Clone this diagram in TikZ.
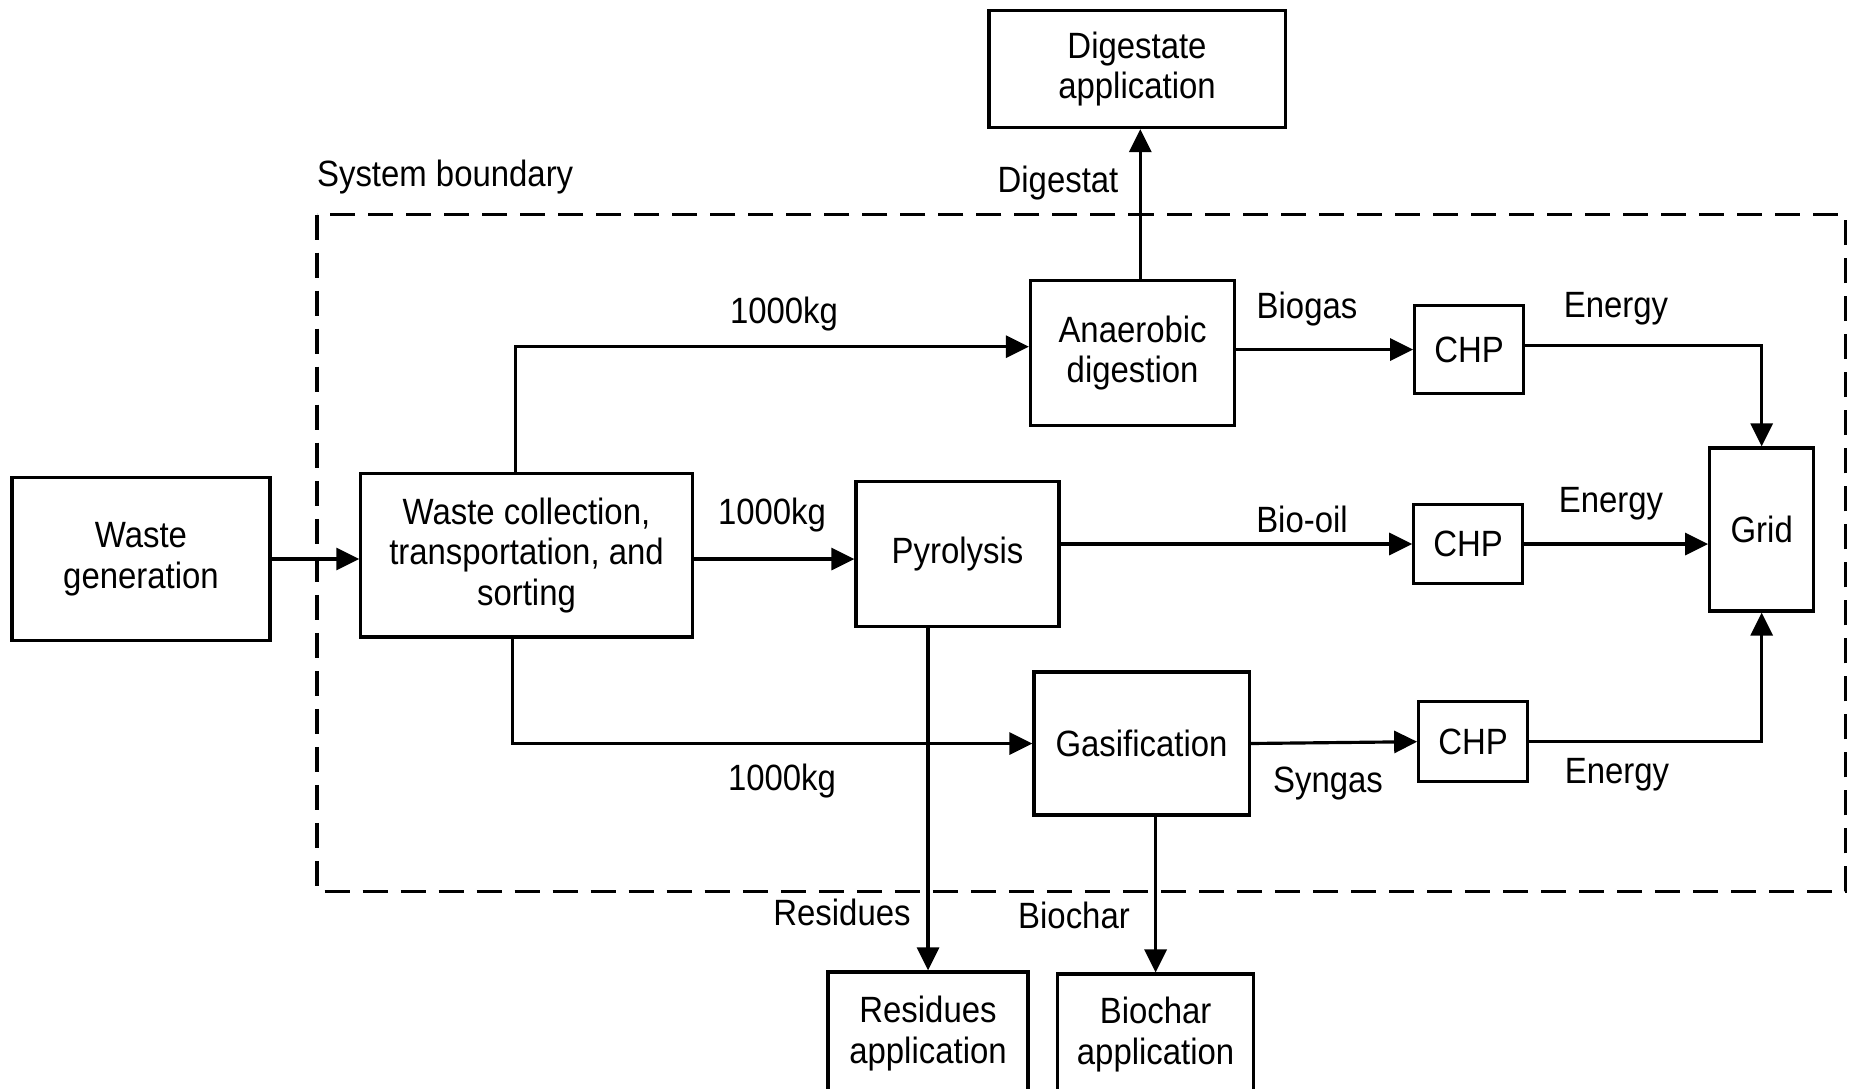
\documentclass[tikz,border=0pt]{standalone}
\usepackage{fontspec}
\setmainfont[FakeStretch=0.9]{Liberation Sans}
\usetikzlibrary{arrows.meta}

\begin{document}
\begin{tikzpicture}[x=0.01cm,y=-0.01cm,>={Triangle[length=0.23cm,width=0.22cm]},
  font=\fontsize{10.4}{11.6}\selectfont,line width=0.9pt,
  box/.style={draw,line width=0.9pt,align=center,inner sep=2pt},
  lbl/.style={inner sep=1pt},
  boundary/.style={draw,line width=0.9pt,dash pattern=on 0.25cm off 0.13cm}]
\useasboundingbox (0,0) rectangle (1849,1088);
\clip (0,0) rectangle (1849,1088);
\draw[boundary] (317,214.6) rectangle (1845.4,891.5);
\node[lbl,anchor=west] (sysb) at (312,177) {System boundary};
% process boxes
\node[box,minimum width=2.58cm,minimum height=1.63cm] (wgen) at (141,559) {Waste\\generation};
\node[box,minimum width=3.31cm,minimum height=1.63cm] (coll) at (526.5,555.4) {Waste collection,\\transportation, and\\sorting};
\node[box,minimum width=2.04cm,minimum height=1.45cm] (ad) at (1132.6,353) {Anaerobic\\digestion};
\node[box,minimum width=2.03cm,minimum height=1.45cm] (pyro) at (957.5,553.7) {Pyrolysis};
\node[box,minimum width=2.15cm,minimum height=1.43cm] (gas) at (1141.5,743.5) {Gasification};
\node[box,minimum width=1.085cm,minimum height=0.88cm] (chpa) at (1469,349.6) {CHP};
\node[box,minimum width=1.085cm,minimum height=0.79cm] (chpb) at (1468,544) {CHP};
\node[box,minimum width=1.085cm,minimum height=0.80cm] (chpc) at (1473,741.7) {CHP};
\node[box,minimum width=1.04cm,minimum height=1.63cm] (grid) at (1761.7,529.5) {Grid};
% outputs outside the boundary
\node[box,minimum width=2.96cm,minimum height=1.17cm] (dig) at (1137,69) {Digestate\\application};
\node[box,minimum width=2.0cm,minimum height=1.23cm] (res) at (928,1033.5) {Residues\\application};
\node[box,minimum width=1.96cm,minimum height=1.21cm] (bio) at (1155.6,1034.5) {Biochar\\application};
% flows
\draw[->] (wgen.east) -- (coll.west |- wgen.east);
\draw[->] ([xshift=-0.11cm]coll.north) |- ([yshift=0.063cm]ad.west);
\draw[->] (coll.east |- wgen.east) -- (pyro.west |- wgen.east);
\draw[->] ([xshift=-0.14cm]coll.south) |- (gas.west);
\draw[->] ([xshift=0.077cm]ad.north) -- ([xshift=0.077cm]ad.north |- dig.south);
\draw[->] (ad.east |- chpa.west) -- (chpa.west);\draw[->] ([yshift=0.04cm]chpa.east) -| (grid.north);
\draw[->] (pyro.east |- chpb.west) -- (chpb.west);\draw[->] (chpb.east) -- (chpb.east -| grid.west);
\draw[->] (gas.east) -- (chpc.west);\draw[->] (chpc.east) -| (grid.south);
\draw[->] (res.north |- pyro.south) -- (res.north);
\draw[->] (bio.north |- gas.south) -- (bio.north);
% flow labels
\node[lbl] (ldig) at (1058,183) {Digestat};
\node[lbl] (lkga) at (784,314) {1000kg};
\node[lbl] (lkgb) at (772,515) {1000kg};
\node[lbl] (lkgc) at (782,781) {1000kg};
\node[lbl] (lbgas) at (1307,309) {Biogas};
\node[lbl] (lboil) at (1302,519) {Bio-oil};
\node[lbl] (lsgas) at (1328,784) {Syngas};
\node[lbl] (lena) at (1616,309) {Energy};
\node[lbl] (lenb) at (1611,504) {Energy};
\node[lbl] (lenc) at (1617,775) {Energy};
\node[lbl] (lres) at (842,912) {Residues};
\node[lbl] (lbio) at (1074,915) {Biochar};
\end{tikzpicture}
\end{document}
